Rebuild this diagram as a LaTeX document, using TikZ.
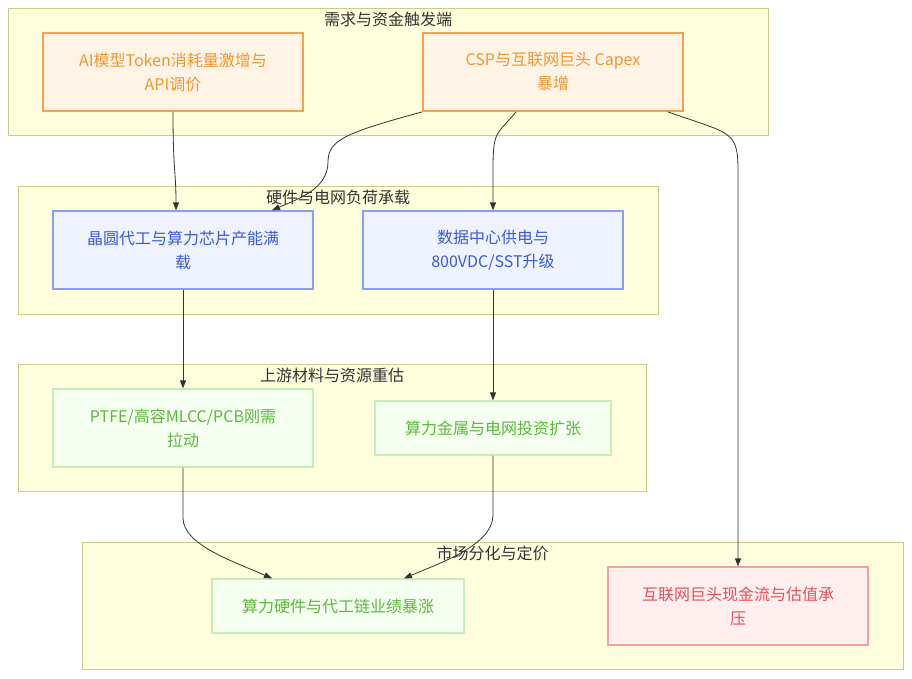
\documentclass[tikz,border=0pt]{standalone}
\usepackage{fontspec}
\setmainfont{Noto Sans CJK SC}
\usetikzlibrary{arrows.meta}

\definecolor{grpfill}{HTML}{FFFFDE}
\definecolor{grpline}{HTML}{CCCC88}
\definecolor{titlegray}{HTML}{333333}
\definecolor{linegray}{HTML}{333333}
\definecolor{orgfill}{HTML}{FFF4E6}
\definecolor{orgline}{HTML}{F5A04A}
\definecolor{orgtext}{HTML}{F0962F}
\definecolor{blufill}{HTML}{EEF3FF}
\definecolor{bluline}{HTML}{87A2EA}
\definecolor{blutext}{HTML}{3B5BD6}
\definecolor{grnfill}{HTML}{F4FFF0}
\definecolor{grnline}{HTML}{C6EFB6}
\definecolor{grntext}{HTML}{5DB83E}
\definecolor{redfill}{HTML}{FFEFEF}
\definecolor{redline}{HTML}{F4A0A0}
\definecolor{redtext}{HTML}{E8505B}

\begin{document}
\begin{tikzpicture}[x=1pt,y=-1pt, % <- pixel units, y downwards
   group/.style={draw=grpline,fill=grpfill,line width=1pt,inner sep=0pt},
   grouptitle/.style={text=titlegray,inner sep=0pt,font=\fontsize{16}{24}\selectfont},
   box/.style={minimum width=260pt,minimum height=78pt,align=center,inner sep=0pt,
      font=\fontsize{16}{24}\selectfont},
   trigger/.style={box,draw=orgline,fill=orgfill,text=orgtext,line width=1.8pt},
   load/.style={box,draw=bluline,fill=blufill,text=blutext,line width=1.2pt},
   upstream/.style={box,draw=grnline,fill=grnfill,text=grntext,line width=1.2pt},
   pressure/.style={box,draw=redline,fill=redfill,text=redtext,line width=1.2pt},
   flow/.style={draw=linegray,line width=0.8pt,-{Triangle[length=8pt,width=6pt]}}]
   \useasboundingbox (0,0) rectangle (912,678);
   % Cluster frames
   \node[group,minimum width=760pt,minimum height=127pt] (demand) at (388,71.5) {};
   \node[group,minimum width=640pt,minimum height=128pt] (hardware) at (338,250) {};
   \node[group,minimum width=628pt,minimum height=127pt] (material) at (332,427.5) {};
   \node[group,minimum width=821pt,minimum height=127pt] (market) at (492.5,605.5) {};
   % Nodes
   \node[trigger] (token) at (173,72) {AI模型Token消耗量激增与\\API调价};
   \node[trigger] (capex) at (553,72) {CSP与互联网巨头 Capex\\暴增};
   \node[load] (foundry) at (183,250) {晶圆代工与算力芯片产能满\\载};
   \node[load] (power) at (493,250) {数据中心供电与\\800VDC/SST升级};
   \node[upstream] (ptfe) at (183,428) {PTFE/高容MLCC/PCB刚需\\拉动};
   \node[upstream,minimum width=236pt,minimum height=54pt] (metal) at (493,428) {算力金属与电网投资扩张};
   \node[upstream,minimum width=252pt,minimum height=54pt] (boom) at (338,606) {算力硬件与代工链业绩暴涨};
   \node[pressure] (cash) at (738,606) {互联网巨头现金流与估值承\\压};
   % Connectors
   \draw[flow] (token.south) .. controls +(0,60) and +(0,-40) .. ([xshift=-7pt]foundry.north);
   \draw[flow] (capex.south west) .. controls (345,133) and (328,140) .. (328,162)
      .. controls (328,190) and (295,200) .. ([xshift=89pt]foundry.north);
   \draw[flow] ([xshift=-37pt]capex.south) .. controls +(-20,24) and +(0,-40) .. (493,170) -- (power.north);
   \draw[flow] ([xshift=115pt]capex.south) .. controls +(62,22) and +(0,-40) .. (738,170) -- (cash.north);
   \draw[flow] (foundry.south) -- (ptfe.north);
   \draw[flow] (power.south) -- (metal.north);
   \draw[flow] (ptfe.south) -- (183,518) .. controls (183,545) and (235,562) .. ([xshift=-66pt]boom.north);
   \draw[flow] (metal.south) -- (493,515) .. controls (493,545) and (440,563) .. ([xshift=66pt]boom.north);
   % Cluster titles
   \node[grouptitle] (demandtitle) at (388,19) {需求与资金触发端};
   \node[grouptitle] (hardwaretitle) at (338,197) {硬件与电网负荷承载};
   \node[grouptitle] (materialtitle) at (332,375) {上游材料与资源重估};
   \node[grouptitle] (markettitle) at (492.5,553) {市场分化与定价};
\end{tikzpicture}
\end{document}
